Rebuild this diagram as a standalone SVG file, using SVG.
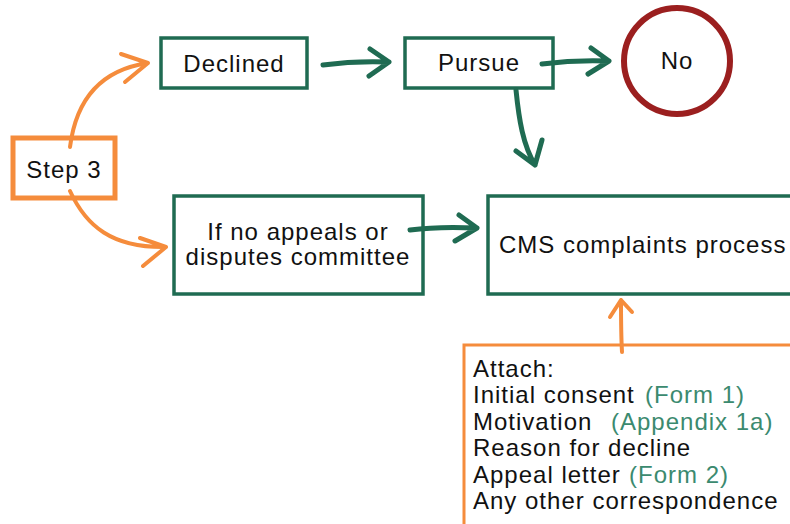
<svg xmlns="http://www.w3.org/2000/svg" width="790" height="524" viewBox="0 0 790 524">
<style>
.t{font-family:"Liberation Sans",Arial,sans-serif;font-size:24px;letter-spacing:1px;fill:#111}
.g{fill:#3b8a6f}
.gb{fill:#fff;stroke:#1f6b52;stroke-width:3.5}
.ob{fill:#fff;stroke:#f58c3c}
.ga{fill:none;stroke:#1f6b52;stroke-width:5;stroke-linecap:round;stroke-linejoin:round}
.oa{fill:none;stroke:#f58c3c;stroke-width:4;stroke-linecap:round;stroke-linejoin:round}
</style>
<rect width="790" height="524" fill="#fff"/>
<g id="step3"><rect class="ob" x="13" y="138" width="102" height="60" stroke-width="5"/><text class="t" x="64" y="178" text-anchor="middle">Step 3</text></g>
<g id="declined"><rect class="gb" x="161" y="38" width="146" height="50"/><text class="t" x="234" y="72" text-anchor="middle">Declined</text></g>
<g id="pursue"><rect class="gb" x="405" y="38" width="148" height="50"/><text class="t" x="479" y="71" text-anchor="middle">Pursue</text></g>
<g id="no"><circle cx="677" cy="61" r="53" fill="#fff" stroke="#9b1f1f" stroke-width="6"/><text class="t" x="677" y="69" text-anchor="middle">No</text></g>
<g id="noappeals"><rect class="gb" x="174" y="196" width="249" height="98"/><text class="t" x="298" y="240" text-anchor="middle">If no appeals or</text><text class="t" x="298" y="265" text-anchor="middle">disputes committee</text></g>
<g id="cms"><rect class="gb" x="488" y="196" width="320" height="98"/><text class="t" x="499" y="253">CMS complaints process</text></g>
<g id="attach"><rect class="ob" x="464" y="345" width="340" height="200" stroke-width="3"/>
<text class="t" x="473" y="377">Attach:</text>
<text class="t" x="473" y="403">Initial consent <tspan class="g" x="645">(Form 1)</tspan></text>
<text class="t" x="473" y="430">Motivation <tspan class="g" x="611">(Appendix 1a)</tspan></text>
<text class="t" x="473" y="456">Reason for decline</text>
<text class="t" x="473" y="483">Appeal letter <tspan class="g" x="629">(Form 2)</tspan></text>
<text class="t" x="473" y="509">Any other correspondence</text></g>
<g id="connectors">
<path class="oa" d="M70,147 C76,100 100,70 148,63 M121,54 L148,63 L125,82"/>
<path class="oa" d="M70,191 C86,226 112,248 166,247 M140,238 L166,247 L143,266"/>
<path class="ga" d="M323,65 C345,62 365,61 389,62 M370,49 L389,62 L369,76"/>
<path class="ga" d="M542,64 C565,61 585,60 609,61 M591,48 L609,61 L588,74"/>
<path class="ga" d="M516,90 C519,120 523,145 535,165 M516,151 L535,165 L542,140"/>
<path class="ga" d="M410,230 C432,227 455,227 477,228 M459,215 L477,228 L455,241"/>
<path class="oa" d="M622,352 C621,335 621,318 621,300 M610,317 L621,300 L632,312"/>
</g>
</svg>
